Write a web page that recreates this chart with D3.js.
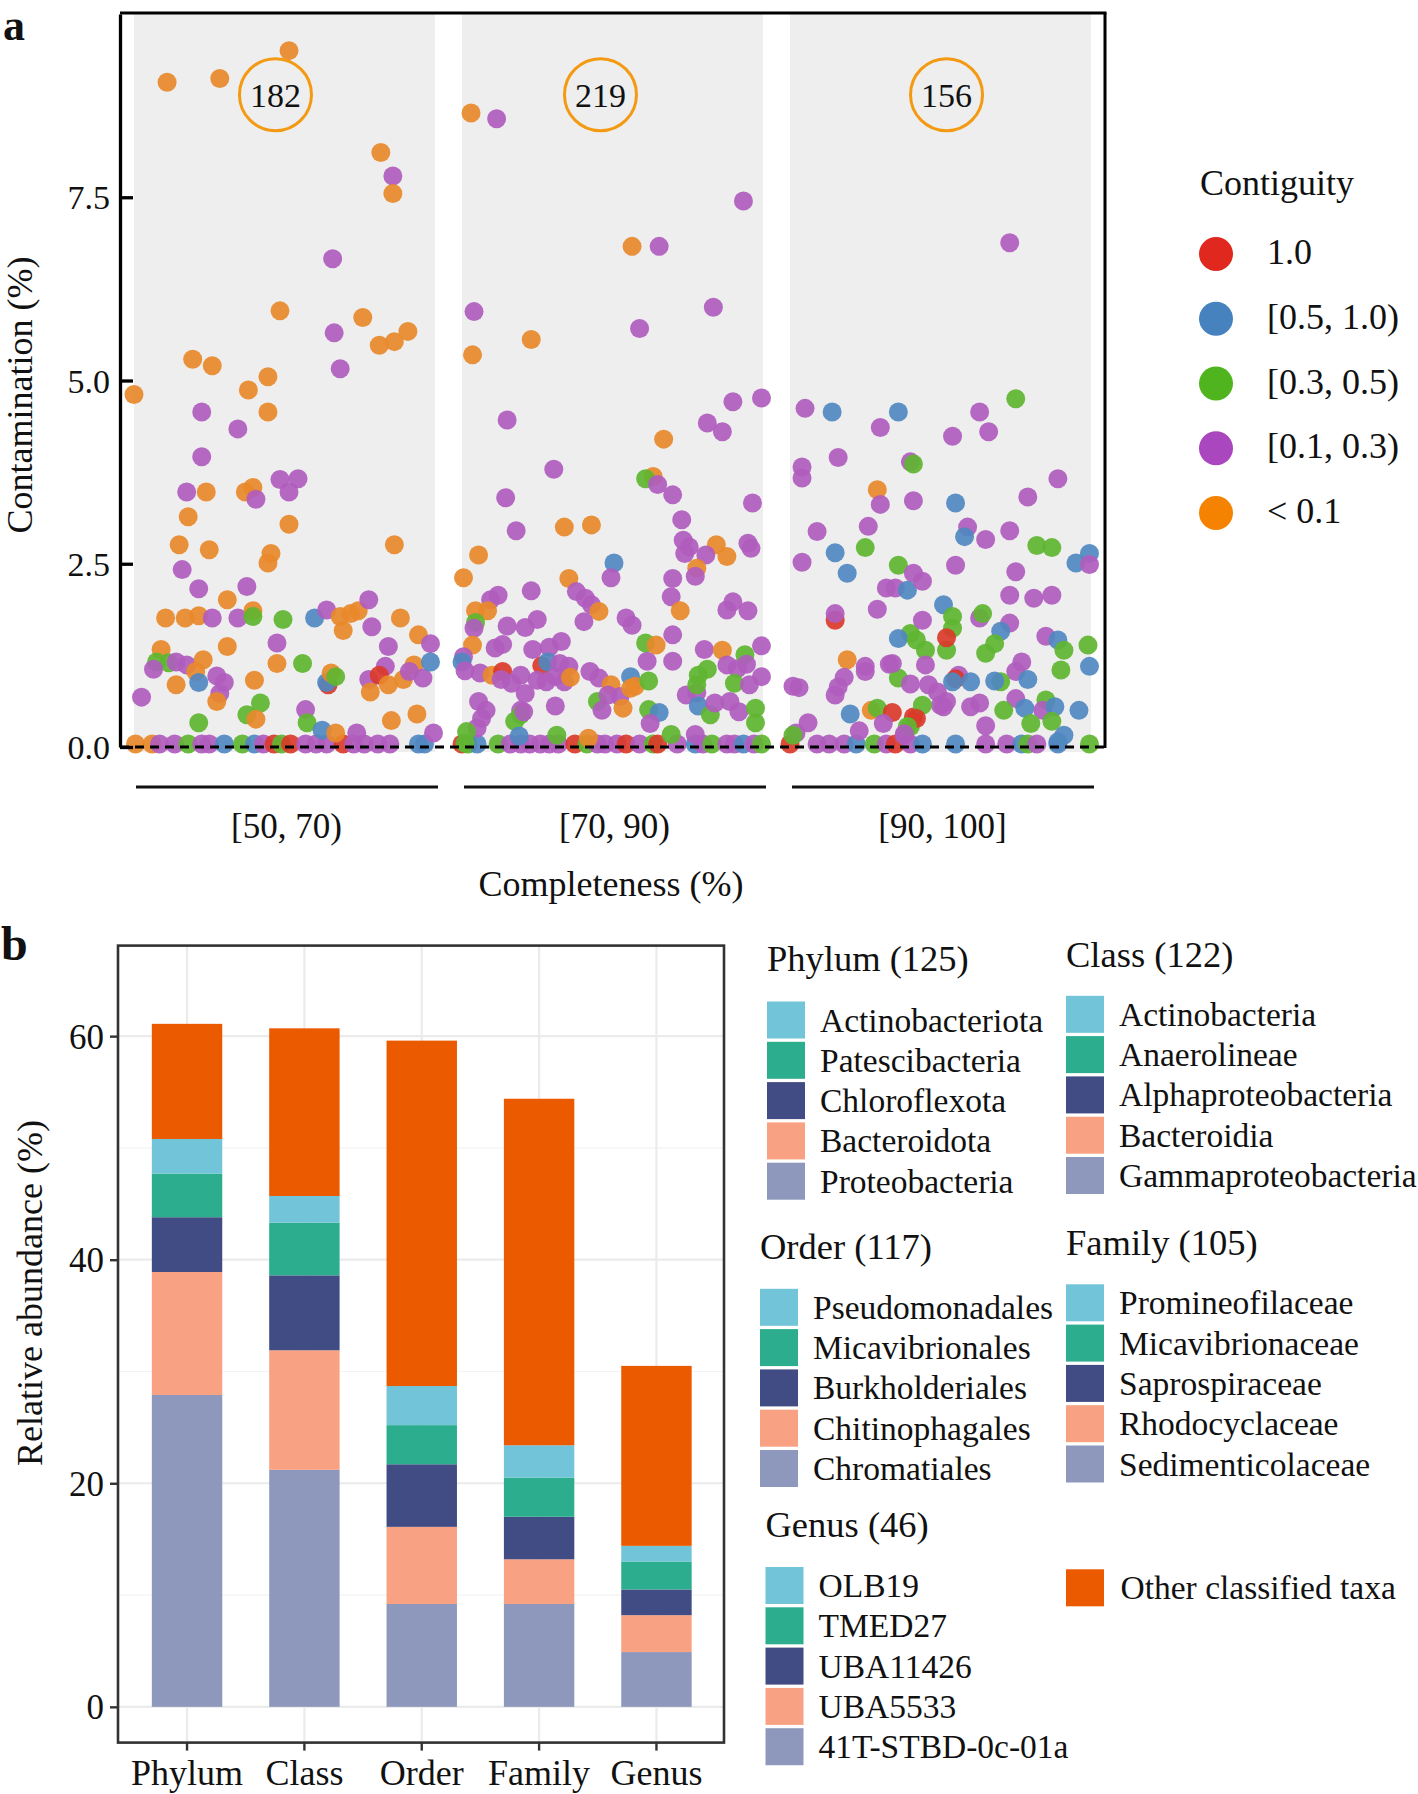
<!DOCTYPE html>
<html>
<head>
<meta charset="utf-8">
<script src="https://cdn.jsdelivr.net/npm/d3@7"></script>
<style>
  body { margin: 0; background: #fff; }
  svg { display: block; }
  text { font-family: "Liberation Serif", "Times New Roman", serif; fill: #111; }
</style>
</head>
<body>
<div id="chart"></div>
<script>
// ---------- panel a data ----------
var bins = ['[50, 70)', '[70, 90)', '[90, 100]']
var binRanges = [[50, 70], [70, 90], [90, 100]]
var binCounts = [182, 219, 156]
var countLabelX = [59.4, 79.2, 95.2]
var countLabelY = 8.9
var contigLevels = ['1.0', '[0.5, 1.0)', '[0.3, 0.5)', '[0.1, 0.3)', '< 0.1']
var contigColors = ['#E0281E', '#4682BE', '#50B41E', '#AA46BE', '#F58200']
var pointColors = ['#DA3A2A', '#5088C0', '#5FB531', '#B05CBE', '#E8892A']
var yTicksA = [0, 2.5, 5, 7.5]

// [completeness, contamination, contiguity class]
var bin50 = [
  [50.1,0,4],[51.2,0,4],[51.7,0,3],[52.7,0,3],[53.6,0,2],[54.5,0,3],[55.0,0,3],[56.0,0,1],[57.2,0,2],[58.0,0,1],
  [58.6,0,3],[59.3,0,0],[59.8,0,2],[60.4,0,0],[61.4,0,3],[62.1,0,3],[62.8,0,3],[63.9,0,0],[64.6,0,3],[65.3,0,3],
  [66.2,0,3],[67.0,0,3],[68.9,0,1],[69.3,0,1],
  [60.3,9.50,4],[52.2,9.07,4],[55.7,9.12,4],[66.4,8.11,4],[67.2,7.79,3],[67.2,7.55,4],[63.2,6.66,3],[59.7,5.95,4],
  [65.2,5.86,4],[63.3,5.65,3],[66.3,5.48,4],[67.3,5.53,4],[68.2,5.67,4],[63.7,5.16,3],[53.9,5.29,4],[55.2,5.20,4],
  [58.9,5.05,4],[57.6,4.87,4],[50.0,4.81,4],[54.5,4.57,3],[58.9,4.57,4],[56.9,4.34,3],[54.5,3.96,3],[53.5,3.48,3],
  [54.8,3.48,4],[53.6,3.14,4],[57.4,3.48,4],[57.9,3.54,4],[58.1,3.38,3],[59.7,3.65,3],[60.9,3.66,3],[60.3,3.48,3],
  [60.3,3.04,4],[53.0,2.76,4],[55.0,2.69,4],[59.1,2.64,4],[58.9,2.51,4],[67.3,2.76,4],[53.2,2.42,3],[54.3,2.16,3],
  [57.5,2.19,3],[56.2,2.01,4],[52.1,1.76,4],[53.4,1.76,4],[54.3,1.79,4],[55.2,1.76,3],[56.9,1.76,3],[57.9,1.86,4],
  [57.9,1.78,2],[59.9,1.74,2],[62.0,1.76,1],[62.8,1.87,3],[63.7,1.78,4],[64.4,1.82,4],[64.9,1.86,4],[63.9,1.59,4],
  [65.6,2.01,3],[65.8,1.64,3],[67.7,1.76,4],[68.9,1.53,4],[69.7,1.41,3],[51.8,1.33,4],[51.5,1.16,2],[52.3,1.15,2],
  [51.3,1.06,3],[52.8,1.16,3],[53.5,1.12,3],[54.6,1.19,4],[54.1,1.03,4],[54.3,0.88,1],[52.8,0.85,4],[55.5,0.97,3],
  [56.0,0.88,3],[55.7,0.73,3],[55.5,0.62,4],[56.2,1.37,4],[58.0,0.91,4],[57.5,0.44,2],[58.4,0.60,2],[58.1,0.38,4],
  [59.5,1.42,3],[59.5,1.14,4],[54.3,0.33,2],[50.5,0.68,3],[61.2,1.14,2],[61.4,0.51,3],[61.5,0.33,2],[62.9,0.85,0],
  [62.8,0.88,1],[63.1,1.01,4],[63.4,0.96,2],[62.5,0.23,1],[63.4,0.19,4],[64.8,0.19,3],[65.6,0.92,3],[66.7,1.10,3],
  [66.3,0.98,0],[65.7,0.75,4],[66.9,0.85,4],[66.9,1.37,3],[67.9,0.92,4],[68.6,1.12,4],[68.3,1.03,3],[69.2,0.94,3],
  [69.7,1.16,1],[67.1,0.36,4],[68.8,0.45,4],[69.9,0.19,3]
]
var bin70 = [
  [70.0,0,0],[70.4,0,2],[71.0,0,1],[72.4,0,2],[73.2,0,3],[73.9,0,3],[74.5,0,3],[75.2,0,3],[75.8,0,3],[76.4,0,3],
  [77.5,0,0],[78.3,0,2],[79.0,0,3],[79.5,0,3],[80.3,0,3],[80.9,0,0],[81.8,0,3],[82.7,0,2],[83.0,0,0],[84.3,0,3],
  [85.5,0,1],[86.0,0,3],[86.6,0,2],[87.6,0,3],[88.1,0,3],[88.7,0,1],[89.4,0,3],[89.9,0,2],
  [70.6,8.65,4],[72.3,8.57,3],[88.7,7.45,3],[81.3,6.83,4],[83.1,6.83,3],[70.8,5.94,3],[74.6,5.56,4],[70.7,5.35,4],
  [81.8,5.71,3],[86.7,6.00,3],[88.0,4.71,3],[89.9,4.76,3],[73.0,4.46,3],[86.3,4.42,3],[87.3,4.30,3],[83.4,4.20,4],
  [76.1,3.79,3],[72.9,3.40,3],[82.7,3.69,4],[82.2,3.66,2],[83.0,3.58,3],[84.0,3.44,3],[89.3,3.33,3],[73.6,2.95,3],
  [76.8,3.00,4],[78.6,3.03,4],[84.6,3.10,3],[84.7,2.82,3],[85.1,2.73,3],[84.8,2.64,3],[86.9,2.76,4],[87.6,2.60,4],
  [86.2,2.62,3],[89.0,2.78,3],[89.2,2.71,3],[85.6,2.44,4],[85.5,2.33,3],[71.1,2.62,4],[70.1,2.31,4],[80.1,2.51,1],
  [79.9,2.31,3],[77.1,2.30,4],[84.0,2.30,3],[83.9,2.05,3],[72.4,2.07,3],[71.9,2.01,3],[74.6,2.13,3],[77.6,2.12,3],
  [78.2,2.03,3],[78.6,1.94,3],[79.1,1.85,4],[78.1,1.71,3],[70.9,1.86,4],[71.7,1.86,4],[70.9,1.70,2],[70.8,1.62,3],
  [73.0,1.65,3],[74.2,1.63,3],[75.0,1.74,3],[80.9,1.76,3],[81.3,1.66,3],[84.5,1.86,4],[84.0,1.53,3],[88.0,1.98,3],
  [89.0,1.86,3],[87.6,1.87,3],[70.7,1.39,4],[70.1,1.23,3],[70.0,1.16,1],[70.2,1.04,3],[71.2,1.01,3],[72.2,1.35,3],
  [72.7,1.40,3],[72.0,0.98,4],[72.7,1.03,0],[72.6,0.92,3],[73.3,0.87,3],[73.9,0.98,3],[74.2,0.73,3],[73.9,0.50,3],
  [74.7,1.33,3],[75.8,1.36,3],[76.6,1.44,3],[75.3,1.11,0],[75.7,1.16,1],[76.5,1.14,3],[77.1,1.10,3],[76.2,0.96,3],
  [76.8,0.89,3],[77.2,0.95,4],[75.0,0.91,3],[75.6,0.89,3],[71.1,0.62,3],[71.6,0.50,3],[71.3,0.39,3],[71.0,0.26,3],
  [70.3,0.21,2],[70.2,0.05,2],[76.2,0.56,3],[73.5,0.35,2],[73.9,0.44,2],[74.1,0.48,3],[73.8,0.15,1],[78.5,1.03,3],
  [79.1,0.94,3],[79.0,0.62,2],[79.3,0.50,3],[79.9,0.85,4],[79.7,0.71,3],[80.5,0.69,3],[80.7,0.53,4],[81.2,0.96,1],
  [81.5,0.83,4],[81.2,0.80,4],[82.4,0.90,2],[82.2,1.42,2],[82.9,1.39,4],[82.3,1.17,3],[84.0,1.17,3],[82.4,0.51,2],
  [83.1,0.47,1],[82.5,0.32,3],[83.9,0.17,2],[84.9,0.71,3],[85.6,0.74,3],[85.7,0.98,2],[86.3,1.06,2],[85.6,0.85,2],
  [85.7,0.56,1],[86.5,0.44,2],[86.1,1.33,3],[87.3,1.32,4],[87.6,1.12,3],[88.3,1.07,3],[88.8,1.26,2],[88.9,1.13,3],
  [88.1,0.87,2],[86.8,0.60,3],[87.8,0.62,3],[88.4,0.48,3],[89.5,0.53,2],[89.5,0.33,2],[89.9,1.38,3],[89.9,0.96,3],
  [89.1,0.85,3],[85.5,0.17,3],[78.4,0.12,4],[76.3,0.16,2]
]
var bin90 = [
  [90.0,0,0],[90.9,0,3],[91.3,0,3],[91.8,0,3],[92.2,0,1],[92.8,0,2],[93.2,0,3],[93.5,0,0],[94.0,0,3],[94.4,0,1],
  [95.5,0,1],[96.5,0,3],[97.2,0,3],[97.7,0,1],[97.9,0,2],[98.2,0,3],[98.9,0,1],[99.95,0,2],
  [90.5,4.62,3],[91.4,4.57,1],[93.6,4.57,1],[97.3,6.88,3],[97.5,4.75,2],[96.3,4.57,3],[96.6,4.30,3],[95.4,4.24,3],
  [93.0,4.36,3],[90.4,3.82,3],[90.4,3.67,3],[91.6,3.95,3],[94.0,3.89,3],[94.1,3.86,2],[92.9,3.51,4],[93.0,3.31,3],
  [94.1,3.36,3],[98.9,3.66,3],[97.9,3.41,3],[95.5,3.33,1],[95.9,3.00,3],[95.8,2.87,1],[96.5,2.83,3],[97.3,2.95,3],
  [98.2,2.75,2],[98.7,2.72,2],[99.5,2.51,1],[99.95,2.64,1],[99.95,2.49,3],[95.5,2.48,3],[90.9,2.94,3],[92.6,3.01,3],
  [91.5,2.65,1],[92.5,2.72,2],[91.9,2.37,1],[90.4,2.52,3],[93.6,2.48,2],[94.1,2.37,3],[93.2,2.17,3],[93.5,2.17,3],
  [93.9,2.14,1],[94.4,2.26,3],[92.9,1.88,3],[91.5,1.73,0],[91.5,1.82,3],[94.0,1.55,2],[93.6,1.48,1],[91.9,1.19,4],
  [92.5,1.10,3],[92.5,1.03,3],[93.3,1.13,3],[91.8,0.95,3],[91.6,0.82,3],[91.5,0.71,3],[93.6,0.94,2],[94.0,0.86,3],
  [90.1,0.83,3],[90.3,0.81,3],[92.7,0.50,4],[92.9,0.53,2],[93.4,0.47,0],[93.1,0.32,3],[92.0,0.45,1],[92.3,0.22,3],
  [90.6,0.33,3],[90.2,0.19,3],[90.1,0.16,2],[93.8,0.16,3],[94.1,0.41,0],[94.0,0.28,2],[94.4,1.73,3],[95.1,1.94,1],
  [95.4,1.78,2],[95.4,1.62,2],[95.2,1.32,2],[95.2,1.49,0],[94.2,1.46,2],[94.5,1.32,2],[94.5,1.12,3],[93.4,1.14,3],
  [94.6,0.85,3],[94.9,0.75,3],[95.1,0.55,3],[95.6,0.98,3],[95.5,0.93,0],[96.0,0.89,1],[95.4,0.89,1],[96.3,1.76,3],
  [96.4,1.82,2],[97.3,2.07,3],[97.5,2.39,3],[97.3,1.69,3],[97.0,1.58,1],[96.5,1.28,2],[96.8,1.41,2],[98.1,2.03,3],
  [98.7,2.07,3],[98.5,1.51,3],[98.9,1.46,1],[99.1,1.32,2],[99.9,1.39,2],[99.95,1.10,1],[99.0,1.05,2],[97.7,1.16,3],
  [97.5,1.03,3],[97.9,0.92,1],[97.0,0.89,2],[96.8,0.90,1],[96.0,0.55,3],[96.3,0.60,3],[97.5,0.66,3],[97.1,0.50,2],
  [97.8,0.53,1],[98.5,0.64,2],[98.4,0.50,3],[98.8,0.55,1],[98.0,0.32,2],[98.7,0.35,2],[99.6,0.50,1],[96.5,0.29,3],
  [99.1,0.16,1],[98.9,0.07,1],[95.0,0.57,3],[95.2,0.62,3],[94.4,0.57,2],[94.2,0.39,0],[93.9,0.28,2],[93.8,0.18,3]
]
var binPoints = [bin50, bin70, bin90]

// ---------- panel b data ----------
var ranks = ['Phylum', 'Class', 'Order', 'Family', 'Genus']
var rankCounts = [557, 553, 533, 475, 208]
var rankTotals = [125, 122, 117, 105, 46]
// legend order, top to bottom
var phylumTaxa = ['Actinobacteriota', 'Patescibacteria', 'Chloroflexota', 'Bacteroidota', 'Proteobacteria']
var classTaxa = ['Actinobacteria', 'Anaerolineae', 'Alphaproteobacteria', 'Bacteroidia', 'Gammaproteobacteria']
var orderTaxa = ['Pseudomonadales', 'Micavibrionales', 'Burkholderiales', 'Chitinophagales', 'Chromatiales']
var familyTaxa = ['Promineofilaceae', 'Micavibrionaceae', 'Saprospiraceae', 'Rhodocyclaceae', 'Sedimenticolaceae']
var genusTaxa = ['OLB19', 'TMED27', 'UBA11426', 'UBA5533', '41T-STBD-0c-01a']
// stacked segments per rank, bottom to top
var valFifth = [27.9, 21.2, 9.2, 9.2, 4.9]
var valFourth = [11.0, 10.7, 6.9, 4.0, 3.3]
var valThird = [4.9, 6.7, 5.6, 3.8, 2.3]
var valSecond = [3.9, 4.7, 3.5, 3.5, 2.5]
var valFirst = [3.1, 2.4, 3.5, 2.9, 1.4]
var valOther = [10.3, 15.0, 30.9, 31.0, 16.1]
var layerKeys = ['fifth', 'fourth', 'third', 'second', 'first', 'other']
var layerColors = ['#8E98BC', '#F9A183', '#414C84', '#2BAD8E', '#72C4D8', '#EC5A00']
var yTicksB = [0, 20, 40, 60]

var W = 1418, H = 1794
var svg = d3.select('#chart').append('svg').attr('width', W).attr('height', H)

// ================= panel a =================
var gA = svg.append('g')
var yA = d3.scaleLinear().domain([0, 10]).range([747, 14])
var facetLeft = [134, 462, 790], facetW = 301

gA.append('text').attr('x', 3).attr('y', 40).style('font-size', '44px').style('font-weight', 'bold').text('a')

bins.forEach(function (b, i) {
  gA.append('rect').attr('x', facetLeft[i]).attr('y', 14).attr('width', facetW).attr('height', 738).attr('fill', '#EEEEEE')
})

bins.forEach(function (b, i) {
  var x = d3.scaleLinear().domain(binRanges[i]).range([facetLeft[i], facetLeft[i] + facetW])
  gA.append('g').selectAll('circle').data(binPoints[i]).enter().append('circle')
    .attr('cx', function (d) { return x(d[0]) })
    .attr('cy', function (d) { return yA(d[1]) - (d[1] === 0 ? 3 : 0) })
    .attr('r', 9.5)
    .attr('fill', function (d) { return pointColors[d[2]] })
    .attr('fill-opacity', 0.92)

  // count badge
  var cx = x(countLabelX[i]), cy = yA(countLabelY)
  gA.append('circle').attr('cx', cx).attr('cy', cy).attr('r', 36).attr('fill', 'none').attr('stroke', '#F39A12').attr('stroke-width', 3)
  gA.append('text').attr('x', cx).attr('y', cy + 12).attr('text-anchor', 'middle').style('font-size', '34px').text(binCounts[i])

  // bracket + label
  gA.append('line').attr('x1', facetLeft[i] + 2).attr('x2', facetLeft[i] + facetW + 3).attr('y1', 787).attr('y2', 787)
    .attr('stroke', '#111').attr('stroke-width', 3)
  gA.append('text').attr('x', facetLeft[i] + facetW / 2 + 2).attr('y', 838).attr('text-anchor', 'middle').style('font-size', '35px').text(b)
})

// zero line
gA.append('line').attr('x1', 120).attr('x2', 1105).attr('y1', yA(0)).attr('y2', yA(0))
  .attr('stroke', '#000').attr('stroke-width', 3).attr('stroke-dasharray', '9,6')

// frame: top and right
gA.append('line').attr('x1', 120).attr('x2', 1106.5).attr('y1', 13).attr('y2', 13).attr('stroke', '#000').attr('stroke-width', 3)
gA.append('line').attr('x1', 1105).attr('x2', 1105).attr('y1', 13).attr('y2', 748).attr('stroke', '#000').attr('stroke-width', 3)

var axA = gA.append('g').attr('transform', 'translate(120,0)')
  .call(d3.axisLeft(yA).tickValues(yTicksA).tickFormat(d3.format('.1f')).tickSizeInner(-13).tickSizeOuter(0).tickPadding(10))
axA.attr('font-family', null).attr('font-size', null)
axA.select('.domain').attr('stroke', '#000').attr('stroke-width', 3.3)
axA.selectAll('.tick line').attr('stroke', '#000').attr('stroke-width', 3.3)
axA.selectAll('.tick text').style('font-size', '34px').attr('fill', '#111').attr('dy', '0.34em')

gA.append('text').attr('transform', 'translate(32,395) rotate(-90)').attr('text-anchor', 'middle').style('font-size', '36px').text('Contamination (%)')
gA.append('text').attr('x', 611).attr('y', 896).attr('text-anchor', 'middle').style('font-size', '36px').text('Completeness (%)')

// legend a
var legA = svg.append('g')
legA.append('text').attr('x', 1200).attr('y', 195).style('font-size', '36px').text('Contiguity')
contigLevels.forEach(function (l, i) {
  var cy = 254 + i * 64.75
  legA.append('circle').attr('cx', 1216).attr('cy', cy).attr('r', 17).attr('fill', contigColors[i])
  legA.append('text').attr('x', 1267).attr('y', cy + 10).style('font-size', '36px').text(l)
})

// ================= panel b =================
var gB = svg.append('g')
var box = { l: 118, r: 724, t: 945.6, b: 1742.6 }
var xB = d3.scaleBand().domain(ranks).range([104.9, 738.6]).paddingInner(0.4).paddingOuter(0.4)
var yB = d3.scaleLinear().domain([-3.2, 68.1]).range([box.b, box.t])

gB.append('text').attr('x', 1).attr('y', 960).style('font-size', '48px').style('font-weight', 'bold').text('b')

// grid
;[10, 30, 50].forEach(function (v) {
  gB.append('line').attr('x1', box.l).attr('x2', box.r).attr('y1', yB(v)).attr('y2', yB(v)).attr('stroke', '#F3F3F3').attr('stroke-width', 1.2)
})
yTicksB.forEach(function (v) {
  gB.append('line').attr('x1', box.l).attr('x2', box.r).attr('y1', yB(v)).attr('y2', yB(v)).attr('stroke', '#EBEBEB').attr('stroke-width', 2.2)
})
ranks.forEach(function (r) {
  var cx = xB(r) + xB.bandwidth() / 2
  gB.append('line').attr('x1', cx).attr('x2', cx).attr('y1', box.t).attr('y2', box.b).attr('stroke', '#EBEBEB').attr('stroke-width', 2.2)
})

var rows = ranks.map(function (r, i) {
  return { rank: r, fifth: valFifth[i], fourth: valFourth[i], third: valThird[i], second: valSecond[i], first: valFirst[i], other: valOther[i] }
})
var series = d3.stack().keys(layerKeys)(rows)

gB.append('g').selectAll('g').data(series).enter().append('g')
  .attr('fill', function (d, i) { return layerColors[i] })
  .selectAll('rect').data(function (d) { return d }).enter().append('rect')
  .attr('x', function (d) { return xB(d.data.rank) })
  .attr('width', xB.bandwidth())
  .attr('y', function (d) { return yB(d[1]) })
  .attr('height', function (d) { return yB(d[0]) - yB(d[1]) })

var top = series[series.length - 1]
gB.append('g').selectAll('text').data(top).enter().append('text')
  .attr('x', function (d) { return xB(d.data.rank) + xB.bandwidth() / 2 })
  .attr('y', function (d) { return yB(d[1]) - 6 })
  .attr('text-anchor', 'middle').style('font-size', '32px')
  .text(function (d, i) { return rankCounts[i] })

gB.append('rect').attr('x', box.l).attr('y', box.t).attr('width', box.r - box.l).attr('height', box.b - box.t)
  .attr('fill', 'none').attr('stroke', '#333').attr('stroke-width', 2.6)

var axBy = gB.append('g').attr('transform', 'translate(' + box.l + ',0)')
  .call(d3.axisLeft(yB).tickValues(yTicksB).tickSizeInner(8).tickSizeOuter(0).tickPadding(6))
axBy.attr('font-family', null).attr('font-size', null)
axBy.select('.domain').remove()
axBy.selectAll('.tick line').attr('stroke', '#333').attr('stroke-width', 2.4)
axBy.selectAll('.tick text').style('font-size', '35px').attr('fill', '#111').attr('dy', '0.34em')

var axBx = gB.append('g').attr('transform', 'translate(0,' + box.b + ')')
  .call(d3.axisBottom(xB).tickSizeInner(8).tickSizeOuter(0).tickPadding(9))
axBx.attr('font-family', null).attr('font-size', null)
axBx.select('.domain').remove()
axBx.selectAll('.tick line').attr('stroke', '#333').attr('stroke-width', 2.4)
axBx.selectAll('.tick text').style('font-size', '36px').attr('fill', '#111')

gB.append('text').attr('transform', 'translate(42,1293) rotate(-90)').attr('text-anchor', 'middle').style('font-size', '36px').text('Relative abundance (%)')

// legend b
var legendBlocks = [
  { title: ranks[0] + ' (' + rankTotals[0] + ')', taxa: phylumTaxa, x: 767, ty: 971, top: 1001.5 },
  { title: ranks[1] + ' (' + rankTotals[1] + ')', taxa: classTaxa, x: 1066, ty: 967, top: 995.8 },
  { title: ranks[2] + ' (' + rankTotals[2] + ')', taxa: orderTaxa, x: 760, ty: 1259, top: 1288.8 },
  { title: ranks[3] + ' (' + rankTotals[3] + ')', taxa: familyTaxa, x: 1066, ty: 1254.6, top: 1284.3 },
  { title: ranks[4] + ' (' + rankTotals[4] + ')', taxa: genusTaxa, x: 765.5, ty: 1537.4, top: 1567 }
]
var legB = svg.append('g')
legendBlocks.forEach(function (blk) {
  legB.append('text').attr('x', blk.x).attr('y', blk.ty).style('font-size', '36.5px').text(blk.title)
  blk.taxa.forEach(function (t, j) {
    var yy = blk.top + j * 40.3
    legB.append('rect').attr('x', blk.x).attr('y', yy).attr('width', 38).attr('height', 37).attr('fill', layerColors[4 - j])
    legB.append('text').attr('x', blk.x + 53).attr('y', yy + 30).style('font-size', '33.5px').text(t)
  })
})
legB.append('rect').attr('x', 1066).attr('y', 1569.3).attr('width', 38).attr('height', 37).attr('fill', layerColors[5])
legB.append('text').attr('x', 1120.5).attr('y', 1599.3).style('font-size', '33.5px').text('Other classified taxa')
</script>
</body>
</html>
